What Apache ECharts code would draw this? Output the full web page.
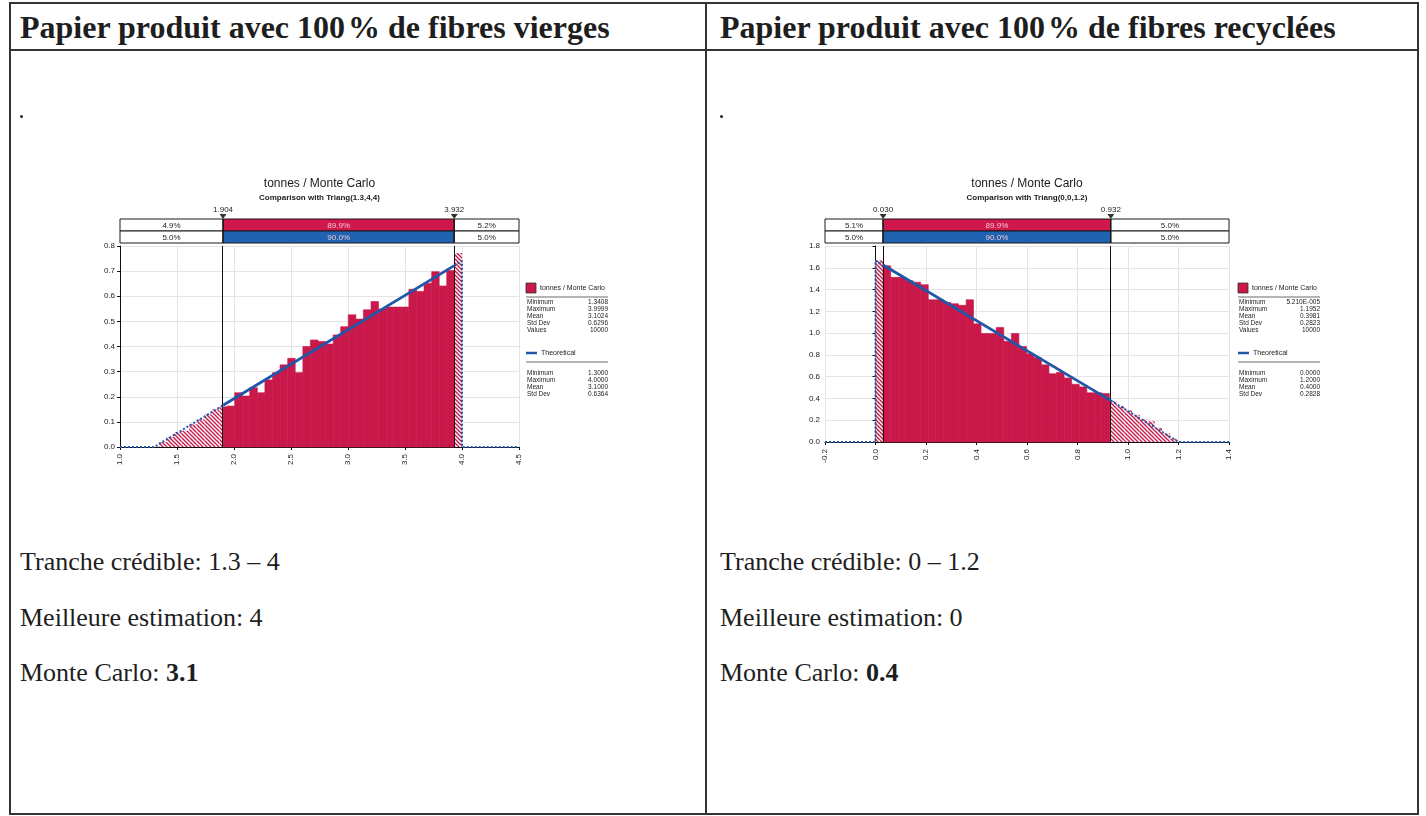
<!DOCTYPE html>
<html><head><meta charset="utf-8">
<script src="https://cdn.jsdelivr.net/npm/echarts@6.0.0/dist/echarts.min.js"></script>
<style>
body{margin:0;background:#fff;}
#page{position:relative;width:1426px;height:816px;overflow:hidden;}
.ln{position:absolute;background:#333;}
.hdr{position:absolute;font-family:"Liberation Serif","Times New Roman",serif;font-weight:bold;font-size:32px;line-height:32px;color:#1e1e1e;white-space:nowrap;}
.pc{padding-left:3px;}
.txt{position:absolute;font-family:"Liberation Serif","Times New Roman",serif;font-size:26px;line-height:30px;color:#1e1e1e;white-space:nowrap;}
.dot{position:absolute;width:3px;height:3px;background:#222;border-radius:2px;}
#chart{position:absolute;left:0;top:0;width:1426px;height:816px;}
</style>
</head><body>
<div id="page">
  <div class="ln" style="left:9px;top:2px;width:1410px;height:2px"></div>
  <div class="ln" style="left:9px;top:49px;width:1410px;height:2px"></div>
  <div class="ln" style="left:9px;top:813px;width:1410px;height:2px"></div>
  <div class="ln" style="left:9px;top:2px;width:2px;height:813px"></div>
  <div class="ln" style="left:705px;top:2px;width:2px;height:813px"></div>
  <div class="ln" style="left:1417px;top:2px;width:2px;height:813px"></div>
  <div class="hdr" style="left:20px;top:11px">Papier produit avec 100<span class="pc">%</span> de fibres vierges</div>
  <div class="hdr" style="left:720px;top:11px">Papier produit avec 100<span class="pc">%</span> de fibres recyclées</div>
  <div class="dot" style="left:20px;top:115px"></div>
  <div class="dot" style="left:720px;top:115px"></div>
  <div class="txt" style="left:20px;top:547px">Tranche crédible: 1.3 – 4</div>
  <div class="txt" style="left:20px;top:603px">Meilleure estimation: 4</div>
  <div class="txt" style="left:20px;top:658px">Monte Carlo: <b>3.1</b></div>
  <div class="txt" style="left:720px;top:547px">Tranche crédible: 0 – 1.2</div>
  <div class="txt" style="left:720px;top:603px">Meilleure estimation: 0</div>
  <div class="txt" style="left:720px;top:658px">Monte Carlo: <b>0.4</b></div>
  <div id="chart"></div>
</div>
<script>
// ---------- data ----------
const chartTitle = 'tonnes / Monte Carlo';
const leftSubtitle = 'Comparison with Triang(1.3,4,4)';
const rightSubtitle = 'Comparison with Triang(0,0,1.2)';

const leftRange = [1.0, 4.5];
const leftYMax = 0.8;
const leftBounds = [1.904, 3.932];
const leftPctSim = ['4.9%', '89.9%', '5.2%'];
const leftPctTheo = ['5.0%', '90.0%', '5.0%'];
const leftEdges = [1.341,1.407,1.474,1.540,1.607,1.673,1.740,1.806,1.873,1.939,2.006,2.072,2.138,2.205,2.271,2.338,2.404,2.471,2.537,2.604,2.670,2.737,2.803,2.870,2.936,3.002,3.069,3.135,3.202,3.268,3.335,3.401,3.468,3.534,3.601,3.667,3.734,3.800,3.866,3.933,4.000];
const leftHeights = [0.020,0.040,0.060,0.065,0.090,0.110,0.130,0.150,0.160,0.163,0.216,0.203,0.236,0.216,0.267,0.296,0.327,0.353,0.296,0.400,0.426,0.420,0.410,0.446,0.479,0.526,0.509,0.546,0.579,0.549,0.557,0.557,0.557,0.628,0.619,0.652,0.698,0.641,0.702,0.772];
const leftTheoLow = [[1.0,0],[1.3,0],[1.904,0.166]];
const leftTheoMid = [[1.904,0.166],[3.932,0.722]];
const leftTheoHigh = [[3.932,0.722],[4.0,0.741],[4.0,0],[4.5,0]];
const leftSimStats = ['1.3408','3.9999','3.1024','0.6296','10000'];
const leftTheoStats = ['1.3000','4.0000','3.1000','0.6364'];

const rightRange = [-0.2, 1.4];
const rightYMax = 1.8;
const rightBounds = [0.030, 0.932];
const rightPctSim = ['5.1%', '89.9%', '5.0%'];
const rightPctTheo = ['5.0%', '90.0%', '5.0%'];
const rightEdges = [0.000,0.030,0.060,0.090,0.120,0.149,0.179,0.209,0.239,0.269,0.299,0.329,0.359,0.388,0.418,0.448,0.478,0.508,0.538,0.568,0.598,0.627,0.657,0.687,0.717,0.747,0.777,0.807,0.837,0.866,0.896,0.926,0.956,0.986,1.016,1.046,1.076,1.106,1.135,1.165,1.195];
const rightHeights = [1.670,1.618,1.512,1.512,1.480,1.467,1.445,1.306,1.306,1.280,1.270,1.255,1.306,1.085,0.997,0.997,1.052,0.925,0.997,0.876,0.810,0.775,0.709,0.627,0.640,0.588,0.530,0.506,0.452,0.452,0.445,0.375,0.330,0.290,0.250,0.210,0.190,0.130,0.080,0.030];
const rightTheoLow = [[-0.2,0],[0.0,0],[0.0,1.667],[0.030,1.625]];
const rightTheoMid = [[0.030,1.625],[0.932,0.380]];
const rightTheoHigh = [[0.932,0.380],[1.2,0],[1.4,0]];
const rightSimStats = ['5.210E-005','1.1952','0.3981','0.2823','10000'];
const rightTheoStats = ['0.0000','1.2000','0.4000','0.2828'];

const statNames = ['Minimum','Maximum','Mean','Std Dev','Values'];
const theoName = 'Theoretical';

// ---------- styles ----------
const RED = '#c9184a', BLUE = '#2057a8', BOXRED = '#d0184c', BOXBLUE = '#1f62b0';
const FONT = '"Liberation Sans", Arial, sans-serif';

function makeHatch(color){
  const c = document.createElement('canvas'); c.width = 4; c.height = 4;
  const g = c.getContext('2d');
  g.fillStyle = '#fff'; g.fillRect(0,0,4,4);
  g.strokeStyle = color; g.lineWidth = 1.4;
  g.beginPath();
  g.moveTo(-1,-1); g.lineTo(5,5);
  g.moveTo(-1,3); g.lineTo(1,5);
  g.moveTo(3,-1); g.lineTo(5,1);
  g.stroke();
  return c;
}
const hatchFill = {image: makeHatch(RED), repeat: 'repeat'};

function histSeries(idx, edges, heights, bounds){
  const data = heights.map((h,i)=>[edges[i], edges[i+1], h]);
  return {
    type:'custom', xAxisIndex:idx, yAxisIndex:idx, data, z:2, silent:true,
    renderItem(params, api){
      const x0 = api.value(0), x1 = api.value(1), h = api.value(2);
      const children = [];
      const seg = (a,b,hatched)=>{
        if (b <= a) return;
        const p0 = api.coord([a,h]), p1 = api.coord([b,0]);
        children.push({type:'rect',
          shape:{x:p0[0], y:p0[1], width:p1[0]-p0[0], height:p1[1]-p0[1]},
          style: hatched ? {fill:hatchFill} : {fill:RED, stroke:RED, lineWidth:0.6}});
      };
      seg(x0, Math.min(x1,bounds[0]), true);
      seg(Math.max(x0,bounds[0]), Math.min(x1,bounds[1]), false);
      seg(Math.max(x0,bounds[1]), x1, true);
      return {type:'group', children};
    }
  };
}

function boxSeries(idx, range, bounds, rowSim, rowTheo){
  const segs = [[range[0],bounds[0]],[bounds[0],bounds[1]],[bounds[1],range[1]]];
  const data = [];
  [rowSim,rowTheo].forEach((row,r)=>row.forEach((t,i)=>data.push([segs[i][0],segs[i][1],r,i])));
  return {
    type:'custom', xAxisIndex:idx, yAxisIndex:idx, data, clip:false, silent:true, z:3,
    renderItem(params, api){
      const x0 = api.value(0), x1 = api.value(1), r = api.value(2), i = api.value(3);
      const p0 = api.coord([x0, 2-r]), p1 = api.coord([x1, 1-r]);
      const fill = i===1 ? (r===0 ? BOXRED : BOXBLUE) : '#fff';
      const label = (r===0 ? rowSim : rowTheo)[i];
      return {type:'group', children:[
        {type:'rect', shape:{x:p0[0], y:p0[1], width:p1[0]-p0[0], height:p1[1]-p0[1]},
         style:{fill, stroke:'#1a1a1a', lineWidth:1}},
        {type:'text', style:{text:label, x:(p0[0]+p1[0])/2, y:(p0[1]+p1[1])/2+0.5,
         align:'center', verticalAlign:'middle', fill: i===1 ? '#f0c8d4' : '#222',
         fontSize:8, fontFamily:FONT}}
      ]};
    }
  };
}

function markerSeries(idx, bounds){
  return {
    type:'custom', xAxisIndex:idx, yAxisIndex:idx, data:bounds.map(b=>[b]), clip:false, silent:true, z:4,
    renderItem(params, api){
      const b = api.value(0);
      const top = api.coord([b, 2]), bot = api.coord([b, 0]);
      const x = top[0];
      return {type:'group', children:[
        {type:'line', shape:{x1:x, y1:top[1], x2:x, y2:bot[1]}, style:{stroke:'#111', lineWidth:1}},
        {type:'polygon', shape:{points:[[x-3.5,top[1]-5],[x+3.5,top[1]-5],[x,top[1]]]}, style:{fill:'#333'}},
        {type:'text', style:{text:b.toFixed(3), x:x, y:top[1]-9, align:'center', verticalAlign:'middle',
          fill:'#222', fontSize:8, fontFamily:FONT}}
      ]};
    }
  };
}

function lineSeries(idx, data, dashed, markBounds){
  const s = {type:'line', xAxisIndex:idx, yAxisIndex:idx, data, symbol:'none', silent:true, z:5,
    lineStyle: dashed ? {color:BLUE, width:2, type:[2,2]} : {color:BLUE, width:2.8}};
  if (markBounds) {
    s.markLine = {symbol:'none', silent:true, label:{show:false}, animation:false,
      lineStyle:{color:'#111', width:1, type:'solid'},
      data: markBounds.map(b=>({xAxis:b}))};
  }
  return s;
}

function mainAxes(idx, range, interval, ymax, yint){
  const x = {type:'value', gridIndex:idx, min:range[0], max:range[1], interval,
    axisLine:{show:true, onZero:false, lineStyle:{color:'#111', width:1}},
    axisTick:{show:true, length:3, lineStyle:{color:'#111'}},
    axisLabel:{rotate:90, fontSize:8, color:'#222', fontFamily:FONT, margin:7, formatter:v=>v.toFixed(1)},
    splitLine:{show:true, lineStyle:{color:'#e4e4e4', width:1}}};
  const y = {type:'value', gridIndex:idx, min:0, max:ymax, interval:yint,
    axisLine:{show:true, lineStyle:{color:'#111', width:1}},
    axisTick:{show:true, length:3, lineStyle:{color:'#111'}},
    axisLabel:{fontSize:8, color:'#222', fontFamily:FONT, margin:5, formatter:v=>v.toFixed(1)},
    splitLine:{show:true, lineStyle:{color:'#e4e4e4', width:1}}};
  return [x,y];
}
function boxAxes(idx, range){
  return [{type:'value', gridIndex:idx, min:range[0], max:range[1], show:false},
          {type:'value', gridIndex:idx, min:0, max:2, show:false}];
}

function legendGraphics(x, simStats, theoStats){
  const w = 82, els = [];
  const txt = (t, tx, ty, align, size) => els.push({type:'text', silent:true,
    style:{text:t, x:tx, y:ty, align:align||'left', verticalAlign:'middle', fill:'#222',
    fontSize:size||6.5, fontFamily:FONT}});
  els.push({type:'rect', silent:true, shape:{x:x, y:283, width:10, height:10}, style:{fill:RED, stroke:'#333', lineWidth:0.8}});
  txt(chartTitle, x+14, 288.5, 'left', 7);
  els.push({type:'line', silent:true, shape:{x1:x, y1:297, x2:x+w, y2:297}, style:{stroke:'#444', lineWidth:0.8}});
  simStats.forEach((v,k)=>{ txt(statNames[k], x+1, 302+7*k); txt(v, x+w, 302+7*k, 'right'); });
  els.push({type:'line', silent:true, shape:{x1:x, y1:353, x2:x+11, y2:353}, style:{stroke:BLUE, lineWidth:2.5}});
  txt(theoName, x+15, 353, 'left', 7);
  els.push({type:'line', silent:true, shape:{x1:x, y1:362, x2:x+w, y2:362}, style:{stroke:'#444', lineWidth:0.8}});
  theoStats.forEach((v,k)=>{ txt(statNames[k], x+1, 373+7*k); txt(v, x+w, 373+7*k, 'right'); });
  return els;
}
function titleGraphics(cx, sub){
  return [
    {type:'text', silent:true, style:{text:chartTitle, x:cx, y:184, align:'center', verticalAlign:'middle', fill:'#1a1a1a', fontSize:12, fontFamily:FONT}},
    {type:'text', silent:true, style:{text:sub, x:cx, y:198, align:'center', verticalAlign:'middle', fill:'#1a1a1a', fontSize:8, fontWeight:'bold', fontFamily:FONT}}
  ];
}

const LG = {left:120, width:399, top:246, height:201};
const RG = {left:825, width:404, top:246, height:196};

const lA = mainAxes(1, leftRange, 0.5, leftYMax, 0.1);
const rA = mainAxes(3, rightRange, 0.2, rightYMax, 0.2);
const lB = boxAxes(0, leftRange);
const rB = boxAxes(2, rightRange);

const option = {
  animation:false,
  backgroundColor:'transparent',
  grid:[
    {left:LG.left, width:LG.width, top:219, height:24},
    {left:LG.left, width:LG.width, top:LG.top, height:LG.height},
    {left:RG.left, width:RG.width, top:219, height:24},
    {left:RG.left, width:RG.width, top:RG.top, height:RG.height}
  ],
  xAxis:[lB[0], lA[0], rB[0], rA[0]],
  yAxis:[lB[1], lA[1], rB[1], rA[1]],
  series:[
    histSeries(1, leftEdges, leftHeights, leftBounds),
    lineSeries(1, leftTheoLow, true),
    lineSeries(1, leftTheoMid, false, leftBounds),
    lineSeries(1, leftTheoHigh, true),
    boxSeries(0, leftRange, leftBounds, leftPctSim, leftPctTheo),
    markerSeries(0, leftBounds),
    histSeries(3, rightEdges, rightHeights, rightBounds),
    lineSeries(3, rightTheoLow, true),
    lineSeries(3, rightTheoMid, false, rightBounds),
    lineSeries(3, rightTheoHigh, true),
    boxSeries(2, rightRange, rightBounds, rightPctSim, rightPctTheo),
    markerSeries(2, rightBounds)
  ],
  graphic:[].concat(
    titleGraphics(LG.left + LG.width/2, leftSubtitle),
    titleGraphics(RG.left + RG.width/2, rightSubtitle),
    legendGraphics(526, leftSimStats, leftTheoStats),
    legendGraphics(1238, rightSimStats, rightTheoStats)
  )
};
const chart = echarts.init(document.getElementById('chart'), null, {renderer:'canvas'});
chart.setOption(option);
</script>
</body></html>
